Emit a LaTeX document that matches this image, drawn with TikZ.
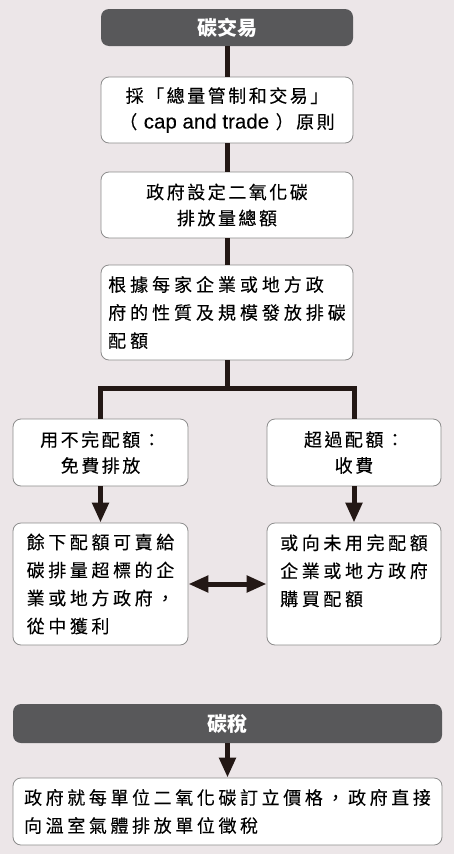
\documentclass[tikz,border=0pt]{standalone}
\usepackage{fontspec}
\setmainfont{Noto Sans CJK TC}
\newfontfamily\latinfont[FakeBold=0.1]{Liberation Sans}
\newfontfamily\cjknarrow[LetterSpace=14,FakeBold=0.15]{Noto Sans CJK TC}
\newfontfamily\cjkwide[LetterSpace=20,FakeBold=0.15]{Noto Sans CJK TC}
\newfontfamily\cjkwider[LetterSpace=22,FakeBold=0.15]{Noto Sans CJK TC}
\usetikzlibrary{arrows.meta}

\definecolor{bgcol}{HTML}{ECE6E8}
\definecolor{darkbox}{HTML}{58585A}
\definecolor{edgecol}{HTML}{8C8C8C}
\definecolor{linecol}{HTML}{231815}

\tikzset{
  box/.style={draw=edgecol, line width=0.8pt, fill=white, rounded corners=8pt, inner sep=0pt},
  headbox/.style={fill=darkbox, rounded corners=8pt, inner sep=0pt, text=white,
    font=\fontsize{20}{22}\bfseries\selectfont},
  narrowtext/.style={font=\cjknarrow\fontsize{18}{26}\selectfont},
  widetext/.style={font=\cjkwide\fontsize{18}{28}\selectfont},
  widertext/.style={font=\cjkwider\fontsize{18}{28}\selectfont},
  conn/.style={linecol, line width=5pt},
  arr/.style={conn, -{Triangle[width=16pt,length=20pt]}},
}

\begin{document}
\begin{tikzpicture}[x=1pt,y=-1pt]
    % 1. Nền
    \fill[bgcol] (0,0) rectangle (454,854);

    % 2. Cột 碳交易
    \node[headbox, minimum width=252pt, minimum height=37pt] (trade) at (227,27.5) {碳交易};
    \node[box, narrowtext, minimum width=252pt, minimum height=66pt, align=center] (cap) at (227,110)
        {採「總量管制和交易」\\（ {\latinfont\fontsize{20.5}{26}\selectfont cap and trade} ）原則};
    \node[box, narrowtext, minimum width=252pt, minimum height=66pt, align=center] (total) at (227,205)
        {政府設定二氧化碳\\排放量總額};
    \node[box, widertext, minimum width=252pt, minimum height=95pt, align=left] (alloc) at (227,312.5)
        {根據每家企業或地方政\\府的性質及規模發放排碳\\配額};

    % 3. Hai nhánh
    \node[box, narrowtext, minimum width=175pt, minimum height=67pt, align=center] (spare) at (100.5,452.5)
        {用不完配額：\\免費排放};
    \node[box, narrowtext, minimum width=174pt, minimum height=67pt, align=center] (over) at (354,452.5)
        {超過配額：\\收費};
    \node[box, widetext, minimum width=175pt, minimum height=122pt, align=left] (sell) at (100.5,584)
        {餘下配額可賣給\\碳排量超標的企\\業或地方政府，\\從中獲利};
    \node[box, widetext, minimum width=174pt, minimum height=122pt, align=left] (buy) at (354,584)
        {或向未用完配額\\企業或地方政府\\購買配額\\\mbox{}};

    % 4. 碳稅
    \node[headbox, minimum width=429pt, minimum height=39pt] (tax) at (227.5,723.5) {碳稅};
    \node[box, widetext, minimum width=429pt, minimum height=67pt, align=left] (taxdesc) at (227.5,811.5)
        {政府就每單位二氧化碳訂立價格，政府直接\\向溫室氣體排放單位徵稅};

    % 5. Đường nối
    \coordinate (fork) at (227,388);
    \draw[conn] (trade) -- (cap);
    \draw[conn] (cap) -- (total);
    \draw[conn] (total) -- (alloc);
    \draw[conn] (alloc) -- (fork);
    \draw[conn] (spare) |- (fork) -| (over);
    \draw[arr] (spare) -- (sell);
    \draw[arr] (over) -- (buy);
    \draw[conn, {Triangle[width=16pt,length=20pt]}-{Triangle[width=16pt,length=20pt]}] (sell) -- (buy);
    \draw[arr] (tax) -- (taxdesc);

\end{tikzpicture}
\end{document}
